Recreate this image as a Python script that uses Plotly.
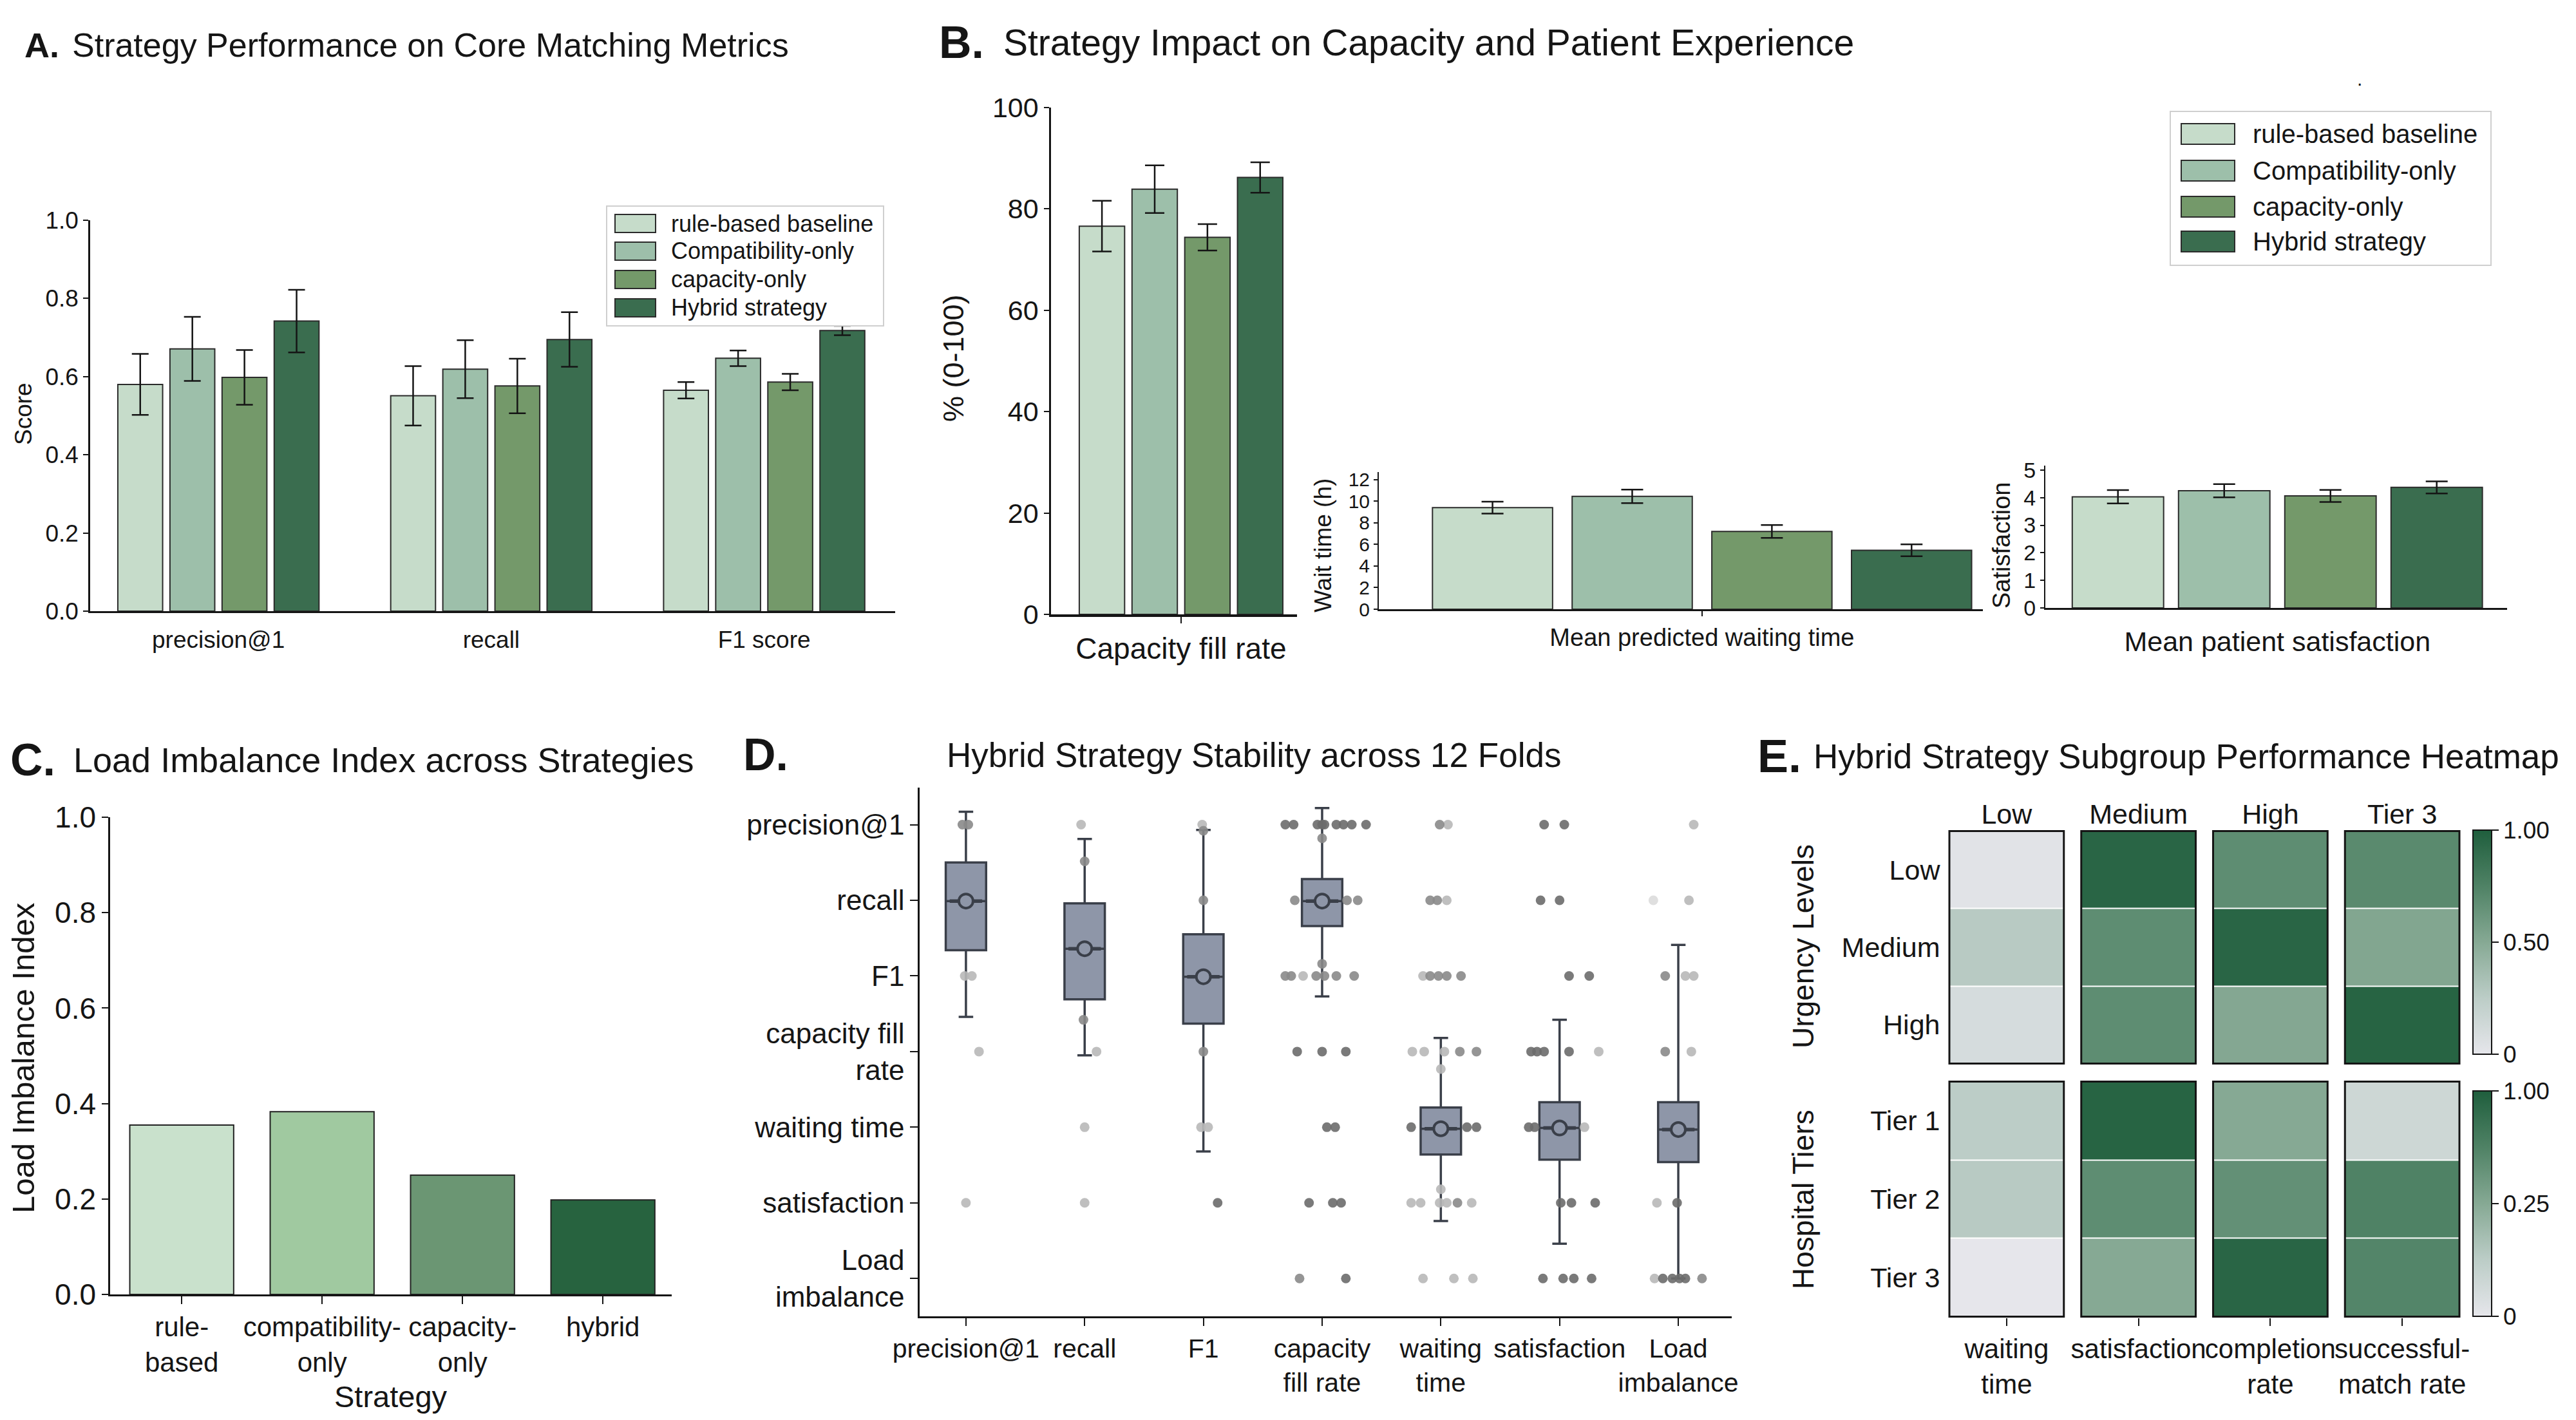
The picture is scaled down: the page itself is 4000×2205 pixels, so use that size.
import plotly.graph_objects as go

W, H = 4000, 2205
FONT = "Liberation Sans, Arial, Helvetica, sans-serif"
INK = "#151515"


def fx(p):
    return p / W


def fy(p):
    return 1 - p / H


# ---------------- data ----------------
STRATEGIES = ["rule-based baseline", "Compatibility-only", "capacity-only", "Hybrid strategy"]
STRAT_COLORS = ["#c6dcca", "#9dbfaa", "#74996a", "#3a6d4f"]

# Panel A
A_METRICS = ["precision@1", "recall", "F1 score"]
A_MEANS = [
    [0.580, 0.551, 0.565],
    [0.671, 0.619, 0.647],
    [0.598, 0.576, 0.586],
    [0.742, 0.695, 0.718],
]
A_ERRS = [
    [0.078, 0.076, 0.021],
    [0.082, 0.074, 0.020],
    [0.070, 0.070, 0.021],
    [0.080, 0.070, 0.012],
]

# Panel B
B_CAP_LABEL = ["Capacity fill rate"]
B_CAP_MEANS = [76.6, 83.9, 74.4, 86.2]
B_CAP_ERRS = [5.0, 4.7, 2.6, 3.0]
B_WAIT_LABEL = ["Mean predicted waiting time"]
B_WAIT_MEANS = [9.4, 10.45, 7.2, 5.45]
B_WAIT_ERRS = [0.55, 0.62, 0.60, 0.55]
B_SAT_LABEL = ["Mean patient satisfaction"]
B_SAT_MEANS = [4.03, 4.25, 4.06, 4.37]
B_SAT_ERRS = [0.24, 0.24, 0.22, 0.22]

# Panel C
C_STRATS = ["rule-<br>based", "compatibility-<br>only", "capacity-<br>only", "hybrid"]
C_VALUES = [0.355, 0.383, 0.250, 0.198]
C_COLORS = ["#c9e1cc", "#a0c9a0", "#6b9673", "#27633f"]

# Panel D (row-index units: 0 = precision@1 ... 6 = Load imbalance)
D_XLABELS = ["precision@1", "recall", "F1", "capacity<br>fill rate", "waiting<br>time",
             "satisfaction", "Load<br>imbalance"]
D_YLABELS = ["precision@1", "recall", "F1", "capacity fill<br>rate", "waiting time",
             "satisfaction", "Load<br>imbalance"]
D_Q1 = [0.50, 1.04, 1.45, 0.72, 3.74, 3.67, 3.67]
D_MEDIAN = [1.01, 1.64, 2.01, 1.01, 4.02, 4.01, 4.03]
D_Q3 = [1.66, 2.31, 2.63, 1.34, 4.36, 4.43, 4.46]
D_LOWER = [-0.17, 0.19, 0.07, -0.22, 2.82, 2.58, 1.59]
D_UPPER = [2.54, 3.05, 4.32, 2.27, 5.24, 5.54, 6.00]
# fold points: (metric column, row level, strip jitter, shade)
D_FOLD_POINTS = [
    (0, 0, -0.03, "m"), (0, 0, 0.02, "m"), (0, 2, -0.01, "l"), (0, 2, 0.05, "l"),
    (0, 3, 0.11, "l"), (0, 5, 0.0, "l"),
    (1, 0, -0.03, "l"), (1, 0.485, 0.0, "m"), (1, 2.58, -0.01, "m"), (1, 3, 0.10, "l"),
    (1, 4, 0.0, "l"), (1, 5, 0.0, "l"),
    (2, 0, -0.01, "l"), (2, 0.08, 0.0, "m"), (2, 1, 0.0, "m"), (2, 3, 0.0, "m"),
    (2, 4, -0.02, "l"), (2, 4, 0.04, "l"), (2, 5, 0.12, "d"),
    (3, 0, -0.31, "d"), (3, 0, -0.24, "d"), (3, 0, -0.04, "d"), (3, 0, 0.0, "d"),
    (3, 0, 0.02, "d"), (3, 0, 0.12, "d"), (3, 0, 0.18, "d"), (3, 0, 0.25, "d"),
    (3, 0, 0.37, "d"), (3, 0.18, 0.0, "m"), (3, 1, -0.23, "m"), (3, 1, 0.21, "m"),
    (3, 1, 0.30, "m"), (3, 1.84, 0.0, "m"), (3, 2, -0.31, "m"), (3, 2, -0.26, "m"),
    (3, 2, -0.16, "l"), (3, 2, -0.05, "m"), (3, 2, 0.02, "m"), (3, 2, 0.12, "m"),
    (3, 2, 0.27, "m"), (3, 3, -0.21, "d"), (3, 3, 0.0, "d"), (3, 3, 0.20, "d"),
    (3, 4, 0.04, "d"), (3, 4, 0.11, "d"), (3, 5, -0.11, "d"), (3, 5, 0.09, "d"),
    (3, 5, 0.16, "d"), (3, 6, -0.19, "m"), (3, 6, 0.20, "d"),
    (4, 0, -0.01, "m"), (4, 0, 0.06, "l"), (4, 1, -0.09, "m"), (4, 1, -0.03, "m"),
    (4, 1, 0.05, "l"), (4, 2, -0.15, "l"), (4, 2, -0.09, "m"), (4, 2, -0.02, "m"),
    (4, 2, 0.05, "m"), (4, 2, 0.17, "m"), (4, 3, -0.24, "l"), (4, 3, -0.14, "l"),
    (4, 3, 0.03, "l"), (4, 3, 0.16, "m"), (4, 3, 0.30, "m"), (4, 3.23, 0.0, "l"),
    (4, 4, -0.25, "d"), (4, 4, 0.22, "d"), (4, 4, 0.30, "d"), (4, 4.82, 0.0, "l"),
    (4, 5, -0.25, "l"), (4, 5, -0.17, "l"), (4, 5, -0.01, "l"), (4, 5, 0.05, "l"),
    (4, 5, 0.14, "m"), (4, 5, 0.26, "l"), (4, 6, -0.15, "l"), (4, 6, 0.11, "l"),
    (4, 6, 0.27, "l"),
    (5, 0, -0.13, "d"), (5, 0, 0.04, "d"), (5, 1, -0.16, "d"), (5, 1, 0.0, "d"),
    (5, 2, 0.08, "d"), (5, 2, 0.25, "d"), (5, 3, -0.24, "d"), (5, 3, -0.19, "d"),
    (5, 3, -0.13, "d"), (5, 3, 0.08, "d"), (5, 3, 0.33, "l"), (5, 4, -0.26, "d"),
    (5, 4, -0.21, "d"), (5, 4, 0.21, "l"), (5, 5, 0.01, "d"), (5, 5, 0.10, "d"),
    (5, 5, 0.30, "d"), (5, 6, -0.14, "d"), (5, 6, 0.03, "d"), (5, 6, 0.12, "d"),
    (5, 6, 0.27, "d"),
    (6, 0, 0.13, "l"), (6, 1, -0.21, "xl"), (6, 1, 0.09, "l"), (6, 2, -0.11, "m"),
    (6, 2, 0.06, "l"), (6, 2, 0.13, "l"), (6, 3, -0.11, "m"), (6, 3, 0.11, "l"),
    (6, 5, -0.18, "l"), (6, 5, -0.01, "d"), (6, 6, -0.20, "l"), (6, 6, -0.13, "d"),
    (6, 6, -0.05, "d"), (6, 6, 0.01, "d"), (6, 6, 0.06, "d"), (6, 6, 0.20, "m"),
]
D_SHADES = {"d": "#6c6c6c", "m": "#8a8a8a", "l": "#b8b8b8", "xl": "#dcdcdc"}

# Panel E
E_METRICS = ["waiting<br>time", "satisfaction", "completion<br>rate", "successful-<br>match rate"]
E_TOP_HEADERS = ["Low", "Medium", "High", "Tier 3"]
E_URGENCY = ["Low", "Medium", "High"]
E_TIERS = ["Tier 1", "Tier 2", "Tier 3"]
E_URGENCY_Z = [
    [0.03, 0.95, 0.68, 0.70],
    [0.27, 0.68, 0.95, 0.52],
    [0.10, 0.68, 0.51, 0.96],
]
E_TIER_Z = [
    [0.25, 0.96, 0.50, 0.15],
    [0.27, 0.68, 0.66, 0.75],
    [0.00, 0.50, 0.95, 0.73],
]
E_SCALE = [[0.0, "#e6e6eb"], [0.25, "#bccdc7"], [0.5, "#86a994"], [0.75, "#4f8265"], [1.0, "#1f5e3d"]]

# ---------------- figure ----------------
fig = go.Figure()

err_common = dict(type="data", color=INK, thickness=2.5)
bar_line = dict(color="#2b2b2b", width=2)

for i, s in enumerate(STRATEGIES):
    fig.add_trace(go.Bar(x=A_METRICS, y=A_MEANS[i], name=s,
                         error_y=dict(array=A_ERRS[i], width=13, **err_common),
                         marker=dict(color=STRAT_COLORS[i], line=bar_line),
                         xaxis="x", yaxis="y", showlegend=False))
    fig.add_trace(go.Bar(x=B_CAP_LABEL, y=[B_CAP_MEANS[i]], name=s,
                         error_y=dict(array=[B_CAP_ERRS[i]], width=15, **err_common),
                         marker=dict(color=STRAT_COLORS[i], line=bar_line),
                         xaxis="x2", yaxis="y2", showlegend=False))
    fig.add_trace(go.Bar(x=B_WAIT_LABEL, y=[B_WAIT_MEANS[i]], name=s,
                         error_y=dict(array=[B_WAIT_ERRS[i]], width=17, **err_common),
                         marker=dict(color=STRAT_COLORS[i], line=bar_line),
                         xaxis="x3", yaxis="y3", showlegend=False))
    fig.add_trace(go.Bar(x=B_SAT_LABEL, y=[B_SAT_MEANS[i]], name=s,
                         error_y=dict(array=[B_SAT_ERRS[i]], width=17, **err_common),
                         marker=dict(color=STRAT_COLORS[i], line=bar_line),
                         xaxis="x4", yaxis="y4", showlegend=False))

fig.add_trace(go.Bar(x=C_STRATS, y=C_VALUES, width=0.74,
                     marker=dict(color=C_COLORS, line=dict(color="#222222", width=2)),
                     xaxis="x5", yaxis="y5", showlegend=False))

# Panel D points
for shade in ["xl", "l", "m", "d"]:
    pts = [p for p in D_FOLD_POINTS if p[3] == shade]
    fig.add_trace(go.Scatter(
        x=[p[0] + p[2] for p in pts], y=[p[1] for p in pts], mode="markers",
        marker=dict(size=15, color=D_SHADES[shade], opacity=0.9),
        xaxis="x6", yaxis="y6", showlegend=False, hoverinfo="skip"))

fig.add_trace(go.Box(x=list(range(len(D_XLABELS))), q1=D_Q1, median=D_MEDIAN, q3=D_Q3,
                     lowerfence=D_LOWER, upperfence=D_UPPER,
                     fillcolor="#8e96a8", line=dict(color="#3a3f49", width=3.5),
                     width=0.34, whiskerwidth=0.36, boxpoints=False,
                     xaxis="x6", yaxis="y6", showlegend=False))
# emphasised median bar and centre marker
fig.add_trace(go.Scatter(x=list(range(len(D_XLABELS))), y=D_MEDIAN, mode="markers",
                         marker=dict(symbol="line-ew", size=36,
                                     line=dict(color="#3a3f49", width=5.5)),
                         xaxis="x6", yaxis="y6", showlegend=False, hoverinfo="skip"))
fig.add_trace(go.Scatter(x=list(range(len(D_XLABELS))), y=D_MEDIAN, mode="markers",
                         marker=dict(symbol="circle", size=22, color="#8e96a8",
                                     line=dict(color="#3a3f49", width=4)),
                         xaxis="x6", yaxis="y6", showlegend=False, hoverinfo="skip"))

# Panel E heatmaps
cb_common = dict(x=fx(3840), xanchor="left", thickness=29, thicknessmode="pixels",
                 lenmode="fraction", outlinecolor=INK, outlinewidth=2, ticks="outside",
                 ticklen=10, tickwidth=2, tickcolor=INK, xpad=0, ypad=0,
                 tickfont=dict(family=FONT, size=37, color=INK))
CB_TOP = (1289, 1637)
CB_BOT = (1694, 2044)
fig.add_trace(go.Heatmap(z=E_URGENCY_Z, x=list(range(4)), y=E_URGENCY, zmin=0, zmax=1,
                         colorscale=E_SCALE, xgap=27, ygap=2, hoverinfo="skip",
                         colorbar=dict(y=fy(sum(CB_TOP) / 2), yanchor="middle",
                                       len=(CB_TOP[1] - CB_TOP[0]) / H, tickvals=[0, 0.5, 1],
                                       ticktext=["0", "0.50", "1.00"], **cb_common),
                         xaxis="x7", yaxis="y7"))
fig.add_trace(go.Heatmap(z=E_TIER_Z, x=list(range(4)), y=E_TIERS, zmin=0, zmax=1,
                         colorscale=E_SCALE, xgap=27, ygap=2, hoverinfo="skip",
                         colorbar=dict(y=fy(sum(CB_BOT) / 2), yanchor="middle",
                                       len=(CB_BOT[1] - CB_BOT[0]) / H, tickvals=[0, 0.5, 1],
                                       ticktext=["0", "0.25", "1.00"], **cb_common),
                         xaxis="x8", yaxis="y8"))


def ax(size, **kw):
    base = dict(showline=True, linecolor=INK, linewidth=2.5, ticks="outside",
                tickcolor=INK, ticklen=8, tickwidth=2, showgrid=False, zeroline=False,
                fixedrange=True, automargin=False, tickangle=0,
                tickfont=dict(family=FONT, size=size, color=INK))
    base.update(kw)
    return base


layout = dict(
    width=W, height=H, autosize=False,
    margin=dict(l=0, r=0, t=0, b=0, pad=0, autoexpand=False),
    paper_bgcolor="white", plot_bgcolor="rgba(0,0,0,0)",
    font=dict(family=FONT, color=INK),
    barmode="group", bargap=0.236, bargroupgap=0.14,
    showlegend=False,
    xaxis=ax(37, domain=[fx(140), fx(1390)], anchor="y", range=[-0.47, 2.48],
             tickcolor="rgba(0,0,0,0)", ticklen=10),
    yaxis=ax(37, domain=[fy(949), fy(342)], anchor="x", range=[0, 1.0],
             tickvals=[0, 0.2, 0.4, 0.6, 0.8, 1.0], tickformat=".1f"),
    xaxis2=ax(46, domain=[fx(1632), fx(2014)], anchor="y2", range=[-0.471, 0.42],
              linewidth=4, ticklen=10),
    yaxis2=ax(43, domain=[fy(954), fy(167)], anchor="x2", range=[0, 100],
              tickvals=[0, 20, 40, 60, 80, 100]),
    xaxis3=ax(38, domain=[fx(2141), fx(3079)], anchor="y3", range=[-0.442, 0.384],
              linewidth=3, ticklen=8),
    yaxis3=ax(30, domain=[fy(946), fy(733)], anchor="x3", range=[0, 12.7],
              tickvals=[0, 2, 4, 6, 8, 10, 12], ticklen=6, linewidth=2),
    xaxis4=ax(43, domain=[fx(3176), fx(3893)], anchor="y4", range=[-0.417, 0.413],
              linewidth=3, tickcolor="rgba(0,0,0,0)", ticklen=12),
    yaxis4=ax(34, domain=[fy(944), fy(723)], anchor="x4", range=[0, 5.16],
              tickvals=[0, 1, 2, 3, 4, 5], ticklen=6, linewidth=2),
    xaxis5=ax(42, domain=[fx(171), fx(1043)], anchor="y5", range=[-0.51, 3.49],
              ticklen=12),
    yaxis5=ax(46, domain=[fy(2010), fy(1269)], anchor="x5", range=[0, 1.0],
              tickvals=[0, 0.2, 0.4, 0.6, 0.8, 1.0], tickformat=".1f", ticklen=10),
    xaxis6=ax(41, domain=[fx(1428), fx(2689)], anchor="y6", range=[-0.39, 6.45],
              tickvals=list(range(len(D_XLABELS))), ticktext=D_XLABELS, ticklen=12),
    yaxis6=ax(44, domain=[fy(2044), fy(1223)], anchor="x6", range=[6.5, -0.49],
              tickvals=list(range(len(D_YLABELS))), ticktext=D_YLABELS, ticklen=12),
    xaxis7=ax(43, domain=[fx(3013.5), fx(3832.5)], anchor="y7", side="top",
              range=[-0.5, 3.5], showline=False, ticks="",
              tickvals=list(range(4)), ticktext=E_TOP_HEADERS),
    yaxis7=ax(43, domain=[fy(1653), fy(1289)], anchor="x7", type="category",
              autorange="reversed", showline=False, ticks=""),
    xaxis8=ax(42, domain=[fx(3013.5), fx(3832.5)], anchor="y8", range=[-0.5, 3.5],
              showline=False, ticklen=12, tickvals=list(range(4)), ticktext=E_METRICS),
    yaxis8=ax(43, domain=[fy(2046), fy(1678)], anchor="x8", type="category",
              autorange="reversed", showline=False, ticks=""),
)
fig.update_layout(**layout)

shapes = []
# heatmap column borders
half = 0.5 - 13.5 / 204.75
for xa, ya in [("x7", "y7"), ("x8", "y8")]:
    for i in range(4):
        shapes.append(dict(type="rect", xref=xa, yref=ya, x0=i - half, x1=i + half,
                           y0=-0.5, y1=2.5, line=dict(color=INK, width=3),
                           fillcolor="rgba(0,0,0,0)", layer="above"))

annotations = []


def legend(x0, x1, y0, y1, sw_x0, sw_x1, sw_h, rows_y, text_x, size):
    shapes.append(dict(type="rect", xref="paper", yref="paper", x0=fx(x0), x1=fx(x1),
                       y0=fy(y1), y1=fy(y0), line=dict(color="#cfcfcf", width=2),
                       fillcolor="white", layer="above"))
    for i, s in enumerate(STRATEGIES):
        yc = rows_y[i]
        shapes.append(dict(type="rect", xref="paper", yref="paper", x0=fx(sw_x0),
                           x1=fx(sw_x1), y0=fy(yc + sw_h / 2), y1=fy(yc - sw_h / 2),
                           line=dict(color="#2b2b2b", width=2),
                           fillcolor=STRAT_COLORS[i], layer="above"))
        annotations.append(dict(text=s, x=fx(text_x), y=fy(yc), xref="paper", yref="paper",
                                xanchor="left", yanchor="middle", showarrow=False,
                                font=dict(family=FONT, size=size, color=INK)))


legend(942, 1372, 320, 506, 955, 1018, 28, [347, 390, 434, 478], 1040, 36)
legend(3370, 3868, 173, 412, 3387, 3470, 32, [208, 265, 321, 375], 3496, 40)


def note(text, x, y, size, xanchor="left", angle=0, bold=False):
    annotations.append(dict(text=f"<b>{text}</b>" if bold else text, x=fx(x), y=fy(y),
                            xref="paper", yref="paper", xanchor=xanchor, yanchor="middle",
                            showarrow=False, textangle=angle,
                            font=dict(family=FONT, size=size, color=INK)))


# panel titles
note("A.", 36, 70, 54, bold=True)
note("Strategy Performance on Core Matching Metrics", 110, 70, 52)
note("B.", 1456, 66, 70, bold=True)
note("Strategy Impact on Capacity and Patient Experience", 1556, 66, 57)
note("C.", 14, 1180, 70, bold=True)
note("Load Imbalance Index across Strategies", 112, 1180, 54)
note("D.", 1152, 1172, 70, bold=True)
note("Hybrid Strategy Stability across 12 Folds", 1947, 1172, 53, xanchor="center")
note("E.", 2727, 1174, 72, bold=True)
note("Hybrid Strategy Subgroup Performance Heatmap", 2814, 1174, 53)
note(".", 3664, 122, 30, xanchor="center")

# axis titles
note("Score", 36, 643, 37, xanchor="center", angle=-90)
note("% (0-100)", 1480, 556, 45, xanchor="center", angle=-90)
note("Wait time (h)", 2055, 847, 37, xanchor="center", angle=-90)
note("Satisfaction", 3108, 847, 38, xanchor="center", angle=-90)
note("Load Imbalance Index", 36, 1643, 49, xanchor="center", angle=-90)
note("Strategy", 607, 2168, 47, xanchor="center")
note("Urgency Levels", 2800, 1470, 46, xanchor="center", angle=-90)
note("Hospital Tiers", 2800, 1863, 46, xanchor="center", angle=-90)

fig.update_layout(shapes=shapes, annotations=annotations)

fig.write_html("out.html", include_plotlyjs=True, config={"displayModeBar": False},
               post_script="document.body.style.margin='0';document.body.style.overflow='hidden';")
